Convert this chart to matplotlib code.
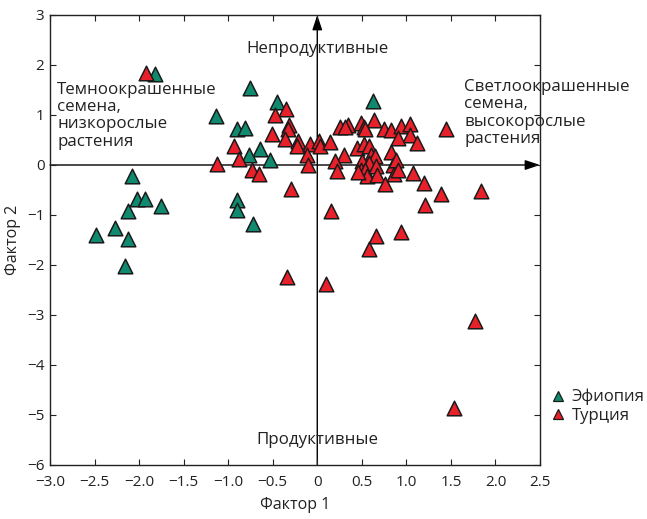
import matplotlib
matplotlib.use("Agg")
import matplotlib.pyplot as plt
from matplotlib.lines import Line2D

plt.rcParams['font.family'] = ['Open Sans', 'DejaVu Sans']

eth_x = [-1.82, -0.76, -0.45, -1.14, -0.90, -0.81, -0.64, -0.77, -0.53, 0.63,
         -2.08, -2.02, -1.93, -1.75, -2.13, -2.27, -2.48, -2.13, -2.16, -0.90, -0.90, -0.72]
eth_y = [1.82, 1.54, 1.27, 0.99, 0.72, 0.75, 0.33, 0.20, 0.10, 1.28,
         -0.21, -0.68, -0.68, -0.81, -0.92, -1.25, -1.39, -1.48, -2.01, -0.70, -0.90, -1.17]

tur_x = [-1.92, -0.35, -0.47, -0.32, -0.33, -0.51, -0.36, -0.22, -0.23, -0.08,
         0.02, 0.03, -0.12, -0.10, -0.93, -0.88, -1.12, -0.73, -0.65, -0.29,
         0.15, -0.34, 0.10, 1.21, 0.66, 0.94, 0.58, 1.77, 1.54, 1.45,
         1.84, 1.39, 1.20, 1.07, 0.64, 0.26, 0.34, 0.31, 0.49, 0.52,
         0.54, 0.75, 0.83, 0.94, 1.04, 1.04, 0.91, 1.12, 0.14, 0.30,
         0.20, 0.22, 0.45, 0.52, 0.58, 0.60, 0.65, 0.83, 0.50, 0.58,
         0.49, 0.54, 0.56, 0.66, 0.67, 0.76, 0.85, 0.86, 0.88, 0.91, 0.46]
tur_y = [1.84, 1.13, 1.01, 0.80, 0.73, 0.63, 0.53, 0.48, 0.39, 0.43,
         0.48, 0.39, 0.20, 0.00, 0.39, 0.13, 0.03, -0.09, -0.17, -0.47,
         -0.92, -2.23, -2.37, -0.79, -1.41, -1.33, -1.67, -3.11, -4.85, 0.73,
         -0.51, -0.58, -0.35, -0.15, 0.90, 0.77, 0.80, 0.76, 0.85, 0.77,
         0.72, 0.73, 0.70, 0.78, 0.82, 0.60, 0.55, 0.45, 0.47, 0.20,
         0.08, -0.11, 0.35, 0.43, 0.38, 0.20, 0.19, 0.27, 0.08, 0.05,
         -0.10, -0.09, -0.21, -0.01, -0.19, -0.37, 0.00, -0.17, 0.10, -0.10, -0.13]

x_ticks = [-3.0, -2.5, -2.0, -1.5, -1.0, -0.5, 0, 0.5, 1.0, 1.5, 2.0, 2.5]
x_labels = ['\u22123.0', '\u22122.5', '\u22122.0', '\u22121.5', '\u22121.0', '\u22120.5',
            '0', '0.5', '1.0', '1.5', '2.0', '2.5']
y_ticks = [-6, -5, -4, -3, -2, -1, 0, 1, 2, 3]
y_labels = ['\u22126', '\u22125', '\u22124', '\u22123', '\u22122', '\u22121', '0', '1', '2', '3']

green = '#0f8a6e'
red = '#e8202a'
ink = '#222222'

fig = plt.figure(figsize=(6.47, 5.19), dpi=100)
ax = fig.add_axes([50/647, 54/519, 490/647, 450/519])
ax.set_xlim(-3.0, 2.5)
ax.set_ylim(-6, 3)

# axis arrows
ax.annotate('', xy=(2.5, 0), xytext=(-3.0, 0),
            arrowprops=dict(arrowstyle='-|>,head_length=0.9,head_width=0.3',
                            color='black', lw=1.0, shrinkA=0, shrinkB=0), zorder=1)
ax.annotate('', xy=(0, 3), xytext=(0, -6),
            arrowprops=dict(arrowstyle='-|>,head_length=0.9,head_width=0.3',
                            color='black', lw=1.0, shrinkA=0, shrinkB=0), zorder=1)

ax.scatter(eth_x, eth_y, marker='^', s=110, c=green, edgecolors='#1a1a1a', linewidths=1.1, zorder=3)
ax.scatter(tur_x, tur_y, marker='^', s=110, c=red, edgecolors='#1a1a1a', linewidths=1.1, zorder=3)

ax.set_xticks(x_ticks)
ax.set_xticklabels(x_labels)
ax.set_yticks(y_ticks)
ax.set_yticklabels(y_labels)
ax.tick_params(direction='in', top=True, right=True, labelsize=11, length=4, width=0.8,
               colors=ink)
ax.tick_params(axis='x', pad=7)
ax.tick_params(axis='y', pad=4)
for sp in ax.spines.values():
    sp.set_linewidth(1.0)
    sp.set_color(ink)

ax.set_xlabel('Фактор 1', fontsize=11.5, labelpad=5, color=ink)
ax.set_ylabel('Фактор 2', fontsize=11.5, labelpad=4, color=ink)

txt = dict(fontsize=12.2, color=ink)
ax.text(0, 2.32, 'Непродуктивные', ha='center', va='center', **txt)
ax.text(0, -5.5, 'Продуктивные', ha='center', va='center', **txt)
ax.text(-2.92, 1.67, 'Темноокрашенные\nсемена,\nнизкорослые\nрастения', ha='left', va='top',
        linespacing=1.12, **txt)
ax.text(1.65, 1.72, 'Светлоокрашенные\nсемена,\nвысокорослые\nрастения', ha='left', va='top',
        linespacing=1.12, **txt)

handles = [Line2D([], [], marker='^', linestyle='none', markersize=7, markerfacecolor=green,
                  markeredgecolor='#1a1a1a', markeredgewidth=0.9),
           Line2D([], [], marker='^', linestyle='none', markersize=7, markerfacecolor=red,
                  markeredgecolor='#1a1a1a', markeredgewidth=0.9)]
ax.legend(handles, ['Эфиопия', 'Турция'], loc='upper left', bbox_to_anchor=(1.0, 0.195),
          frameon=False, handlelength=0.8, handletextpad=0.4, borderpad=0.2,
          labelspacing=0.15, fontsize=12, labelcolor=ink)

fig.savefig('out.png', dpi=100)
